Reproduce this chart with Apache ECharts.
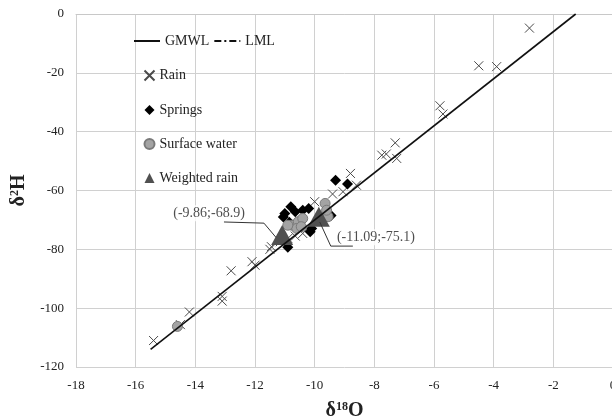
<!DOCTYPE html>
<html>
<head>
<meta charset="utf-8">
<script src="https://cdn.jsdelivr.net/npm/echarts@6/dist/echarts.min.js"></script>
<style>
  html, body {margin: 0; padding: 0; background: #fff;}
  #chart {width: 612px; height: 418px;}
</style>
</head>
<body>
<div id="chart"></div>
<script>
// 坐标轴刻度
const xTicks = [-18, -16, -14, -12, -10, -8, -6, -4, -2, 0]
const yTicks = [-120, -100, -80, -60, -40, -20, 0]

// 雨水 Rain
const rainO = [-15.4, -14.5, -14.2, -13.1, -13.1, -12.8, -12.1, -12.0, -11.5, -11.45, -11.15, -10.9, -10.65, -10.4,
  -10.0, -9.4, -9.05, -8.6, -8.8, -7.75, -7.6, -7.3, -7.25, -5.8, -5.7, -4.5, -3.9, -2.8]
const rainH = [-111, -105.6, -101.3, -96, -97.6, -87.3, -84.2, -85.4, -80, -79.1, -77.4, -76.3, -75.5, -74.6,
  -63.8, -61.2, -60.4, -58.2, -54.2, -48, -47.6, -43.8, -49.1, -31.2, -34, -17.6, -17.9, -4.8]

// 泉水 Springs
const springO = [-9.3, -8.9, -10.8, -11.0, -10.65, -10.4, -10.2, -11.05, -10.1, -10.15, -10.9, -9.45, -10.5, -10.85]
const springH = [-56.5, -57.8, -65.5, -67.8, -67.2, -66.7, -66.1, -69.0, -72.9, -74.0, -79.3, -68.5, -71.5, -70.8]

// 地表水 Surface water
const surfO = [-14.6, -10.75, -10.55, -10.4, -10.6, -10.45, -9.65, -9.55, -9.6, -10.9]
const surfH = [-106.2, -71.8, -70.6, -69.5, -72.9, -72.3, -64.4, -68.9, -66.7, -71.8]

// 加权雨水 Weighted rain
const wO = [-11.09, -9.86]
const wH = [-75.1, -68.9]

// GMWL: d2H = 8*d18O + 10
const gmwlO = [-15.5, -1.25]
const gmwlH = [-114, 0]

// 标注文字和引线
const noteText = ['(-9.86;-68.9)', '(-11.09;-75.1)']
const noteO = [-13.54, -9.32]
const noteH = [-67.7, -75.9]
const leaderA = [[-13.04, -70.7], [-11.70, -71.1], [-11.30, -75.9]]
const leaderB = [[-9.83, -70.7], [-9.46, -78.9], [-8.72, -78.9]]

const font = "'Liberation Serif', 'Times New Roman', serif"
const pairs = (xs, ys) => xs.map((v, i) => [v, ys[i]])

let mChart = echarts.init(document.getElementById('chart'))
let option = {
  animation: false,
  backgroundColor: '#fff',
  grid: {left: 76, right: -1, top: 14, bottom: 51, outerBoundsMode: 'none', containLabel: false},
  legend: [
    {
      data: ['GMWL', 'LML'],
      left: 128, top: 29,
      itemWidth: 26, itemHeight: 10, itemGap: 4,
      itemStyle: {opacity: 0},
      textStyle: {fontFamily: font, fontSize: 14, color: '#222'}
    },
    {
      data: ['Rain', 'Springs', 'Surface water', 'Weighted rain'],
      orient: 'vertical',
      left: 137, top: 63,
      itemWidth: 10, itemHeight: 10, itemGap: 20,
      textStyle: {fontFamily: font, fontSize: 14, color: '#222'}
    }
  ],
  xAxis: {
    type: 'value', min: xTicks[0], max: xTicks[xTicks.length - 1], interval: 2,
    name: '{a|δ}{b|18}{a|O}', nameLocation: 'middle', nameGap: 34,
    nameTextStyle: {
      rich: {
        a: {fontFamily: font, fontSize: 20, fontWeight: 'bold', color: '#222'},
        b: {fontFamily: font, fontSize: 12, fontWeight: 'bold', color: '#222', verticalAlign: 'top', padding: [0, 0, 8, 0]}
      }
    },
    axisLine: {show: true, lineStyle: {color: '#c8c8c8'}},
    axisTick: {show: false},
    axisLabel: {fontFamily: font, fontSize: 13, color: '#222', margin: 12},
    splitLine: {show: true, lineStyle: {color: '#d0d0d0'}}
  },
  yAxis: {
    type: 'value', min: yTicks[0], max: yTicks[yTicks.length - 1], interval: 20,
    name: '{a|δ}{b|2}{a|H}', nameLocation: 'middle', nameGap: 46,
    nameTextStyle: {
      rich: {
        a: {fontFamily: font, fontSize: 20, fontWeight: 'bold', color: '#222'},
        b: {fontFamily: font, fontSize: 12, fontWeight: 'bold', color: '#222', verticalAlign: 'top', padding: [0, 0, 8, 0]}
      }
    },
    axisLine: {show: true, lineStyle: {color: '#c8c8c8'}},
    axisTick: {show: false},
    axisLabel: {fontFamily: font, fontSize: 13, color: '#222', margin: 12},
    splitLine: {show: true, lineStyle: {color: '#d0d0d0'}}
  },
  series: [
    {
      name: 'Rain', type: 'scatter',
      symbol: 'path://M0,0L10,10M10,0L0,10', symbolSize: 9,
      itemStyle: {color: 'none', borderColor: '#4a4a4a', borderWidth: 1, opacity: 1},
      data: pairs(rainO, rainH)
    },
    {
      name: 'GMWL', type: 'line', symbol: 'none',
      lineStyle: {color: '#111', width: 1.6},
      itemStyle: {color: '#111'},
      data: pairs(gmwlO, gmwlH)
    },
    {
      name: 'LML', type: 'line', symbol: 'none',
      lineStyle: {color: '#111', width: 1.4, type: [7, 3, 2, 3]},
      itemStyle: {color: '#111'},
      data: []
    },
    {
      name: 'Springs', type: 'scatter', symbol: 'diamond', symbolSize: 11,
      itemStyle: {color: '#000', opacity: 1},
      data: pairs(springO, springH)
    },
    {
      name: 'Surface water', type: 'scatter', symbol: 'circle', symbolSize: 10,
      itemStyle: {color: '#a3a3a3', borderColor: '#7a7a7a', borderWidth: 1, opacity: 1},
      data: pairs(surfO, surfH)
    },
    {
      name: 'leaderA', type: 'line', symbol: 'none', silent: true,
      lineStyle: {color: '#333', width: 1},
      data: leaderA
    },
    {
      name: 'leaderB', type: 'line', symbol: 'none', silent: true,
      lineStyle: {color: '#333', width: 1},
      data: leaderB
    },
    {
      name: 'Weighted rain', type: 'scatter', symbol: 'triangle', symbolSize: [22, 20],
      itemStyle: {color: '#505050', opacity: 1},
      data: pairs(wO, wH)
    },
    {
      name: 'notes', type: 'scatter', symbolSize: 0, silent: true, z: 1,
      label: {
        show: true, fontFamily: font, fontSize: 14, color: '#222',
        backgroundColor: '#fff', padding: [1, 2],
        formatter: p => p.data.text
      },
      data: noteText.map((t, i) => ({
        value: [noteO[i], noteH[i]], text: t,
        label: {position: i == 0 ? 'inside' : 'right', distance: 0}
      }))
    }
  ]
}
mChart.setOption(option)
</script>
</body>
</html>
